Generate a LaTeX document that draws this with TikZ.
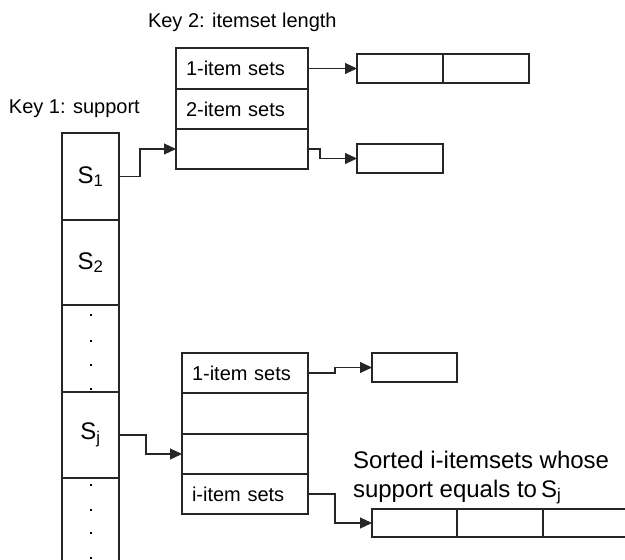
\documentclass[tikz,border=0pt]{standalone}
\usepackage{fontspec}
\setmainfont{Liberation Sans}
\usetikzlibrary{arrows.meta}
\begin{document}
\begin{tikzpicture}[x=1pt,y=-1pt,
  line width=1.1pt,
  every node/.style={inner sep=0pt, outer sep=0pt},
  lbl/.style={font=\fontsize{20}{24}\selectfont},
  big/.style={font=\fontsize{24}{29}\selectfont},
  keycell/.style={draw=black!85, anchor=north west, minimum width=57pt,
    font=\fontsize{24}{28}\selectfont},
  row/.style={draw=black!85, anchor=north west, text width=#1, inner xsep=10pt,
    align=left, font=\fontsize{20}{24}\selectfont},
  slot/.style={draw=black!85, anchor=north west, minimum width=#1},
  link/.style={draw=black!85, -{Triangle[length=12pt,width=11pt]}},
  dot/.style={fill=black, minimum size=2.2pt}
]
\useasboundingbox (0,0) rectangle (625,560);

% key labels
\node[lbl, anchor=base west] (key1) at (9,113) {Key 1: support};
\node[lbl, anchor=base west] (key2) at (148,27) {Key 2: itemset length};

% support column
\node[keycell, minimum height=87pt] (s1) at (62,133) {S\textsubscript{1}};
\node[keycell, minimum height=85pt] (s2) at (62,220) {S\textsubscript{2}};
\node[keycell, minimum height=87pt] (d1) at (62,305) {};
\node[keycell, minimum height=86pt] (sj) at (62,392) {S\textsubscript{j}};
\draw[black!85] (62,478) -- (62,560) (119,478) -- (119,560);
\coordinate (colbot) at (62,478);
\foreach \y in {315,341,365,389,485,510,533,558}
  \node[dot] at (91,\y) {};

% itemset-length table for S1
\node[row=112pt, minimum height=41pt] (t1) at (176,48) {1-item sets};
\node[row=112pt, minimum height=40pt] (t2) at (176,89) {2-item sets};
\node[row=112pt, minimum height=40pt] (t3) at (176,129) {};

% itemset-length table for Sj
\node[row=106pt, minimum height=40pt] (b1) at (182,353) {1-item sets};
\node[row=106pt, minimum height=41pt] (b2) at (182,393) {};
\node[row=106pt, minimum height=40pt] (b3) at (182,434) {};
\node[row=106pt, minimum height=40pt] (b4) at (182,474) {i-item sets};

% itemset lists
\node[slot=86pt, minimum height=29pt] (r1a) at (357,54) {};
\node[slot=86pt, minimum height=29pt] (r1b) at (443,54) {};
\node[slot=86pt, minimum height=29pt] (r3) at (357,144) {};
\node[slot=85pt, minimum height=29pt] (q1) at (372,353) {};
\node[slot=85pt, minimum height=28pt] (q4a) at (372,509) {};
\node[slot=86pt, minimum height=28pt] (q4b) at (457,509) {};
\draw[black!85] (q4b.north east) -- (625,509) (q4b.south east) -- (625,537);

% caption of the sorted list
\node[big, anchor=base west] (cap1) at (353,468) {Sorted i-itemsets whose};
\node[big, anchor=base west] (cap2) at (353,497) {support equals to\,S\textsubscript{j}};

% connectors
\draw[link] (s1.east) -- ++(21,0) |- (t3.west);
\draw[link] (t1.east) -- (r1a.west);
\draw[link] (t3.east) -- ++(12,0) |- (r3.west);
\draw[link] (sj.east) -- ++(27,0) |- (b3.west);
\draw[link] (b1.east) -- ++(27,0) |- (q1.west);
\draw[link] (b4.east) -- ++(27,0) |- (q4a.west);
\end{tikzpicture}
\end{document}
